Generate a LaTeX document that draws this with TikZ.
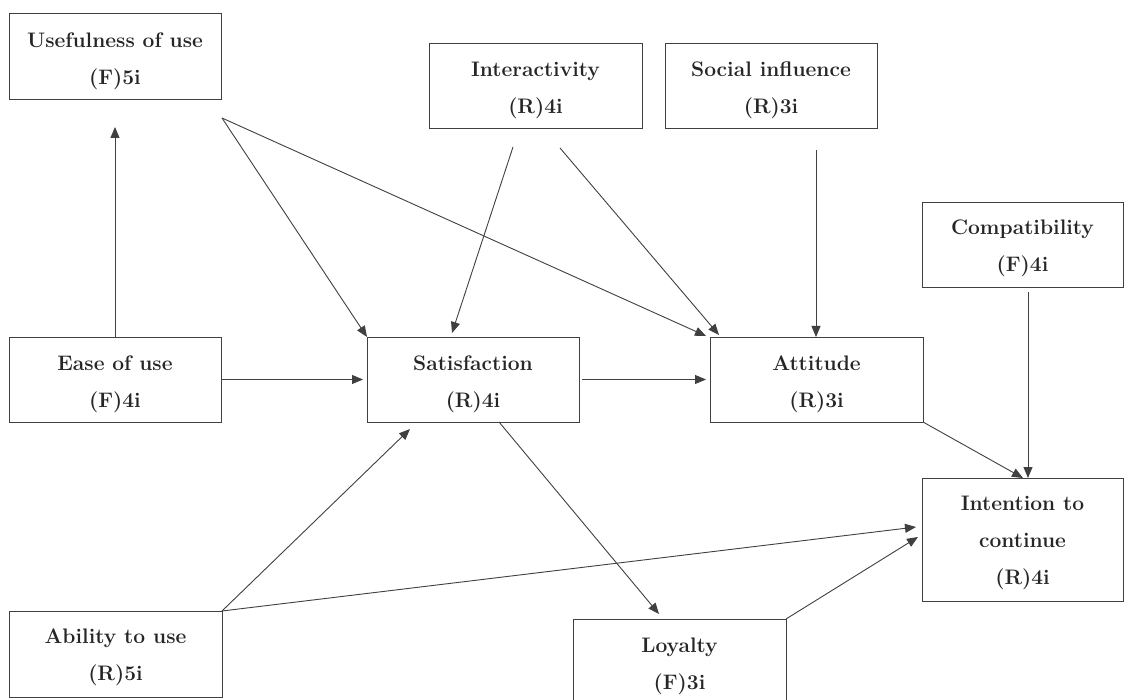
\documentclass[tikz,border=0pt]{standalone}
\usetikzlibrary{arrows.meta,calc}
\begin{document}
\begin{tikzpicture}[x=1pt,y=-1pt,
  box/.style={draw=black!75,line width=0.9pt,rectangle,inner sep=0pt,outer sep=0pt},
  txt/.style={inner sep=0pt,align=center,text=black!85,font=\fontsize{21}{37}\selectfont\bfseries},
  arr/.style={draw=black!75,line width=0.9pt,-{Triangle[length=11pt,width=9pt]}}]
\clip (0,0) rectangle (1124,700);
\fill[white] (0,0) rectangle (1124,700);
% boxes
\node[box,minimum width=212pt,minimum height=86pt] (use) at (115,56) {};
\node[box,minimum width=213pt,minimum height=85pt] (inter) at (535.5,85.5) {};
\node[box,minimum width=212pt,minimum height=85pt] (social) at (771,85.5) {};
\node[box,minimum width=201pt,minimum height=85pt] (compat) at (1022.5,244.5) {};
\node[box,minimum width=212pt,minimum height=85pt] (ease) at (115,379.5) {};
\node[box,minimum width=212pt,minimum height=85pt] (sat) at (473,379.5) {};
\node[box,minimum width=213pt,minimum height=85pt] (att) at (816.5,379.5) {};
\node[box,minimum width=201pt,minimum height=123pt] (intent) at (1022.5,539.5) {};
\node[box,minimum width=213pt,minimum height=86pt] (abil) at (115.5,654) {};
\node[box,minimum width=213pt,minimum height=86pt,anchor=north] (loyal) at (679.5,619) {};
% texts
\node[txt] (useT) at ($(use)+(0,5)$) {Usefulness of use\\(F)5i};
\node[txt] (interT) at ($(inter)+(0,5)$) {Interactivity\\(R)4i};
\node[txt] (socialT) at ($(social)+(0,5)$) {Social influence\\(R)3i};
\node[txt] (compatT) at ($(compat)+(0,4)$) {Compatibility\\(F)4i};
\node[txt] (easeT) at ($(ease)+(0,5)$) {Ease of use\\(F)4i};
\node[txt] (satT) at ($(sat)+(0,5)$) {Satisfaction\\(R)4i};
\node[txt] (attT) at ($(att)+(0,5)$) {Attitude\\(R)3i};
\node[txt] (intentT) at ($(intent)+(0,3)$) {Intention to\\continue\\(R)4i};
\node[txt] (abilT) at ($(abil)+(0,3)$) {Ability to use\\(R)5i};
\node[txt] (loyalT) at ($(loyal)+(0,4)$) {Loyalty\\(F)3i};
% free ends
\coordinate (e1) at (115,127);
\coordinate (u0) at (222,118);
\coordinate (i1) at (513,147);
\coordinate (i2) at (560,148);
\coordinate (s1) at (452,333);
\coordinate (a1) at (719,335);
\coordinate (so1) at (816,150);
\coordinate (co1) at (1028,292);
\coordinate (t1) at (1023,478);
\coordinate (s2) at (410,429);
\coordinate (t2) at (916,527);
\coordinate (t3) at (918,537);
\coordinate (s3) at (499,422);
\coordinate (l1) at (659,614);
% connectors
\draw[arr] (ease.north) -- (e1);
\draw[arr] (u0) -- (sat.north west);
\draw[arr] (u0) -- ($(att.north west)+(-4,-1)$);
\draw[arr] (i1) -- (s1);
\draw[arr] (i2) -- (a1);
\draw[arr] (so1) -- (so1 |- att.north);
\draw[arr] (co1) -- (co1 |- intent.north);
\draw[arr,shorten >=4pt] (ease.east) -- (sat.west);
\draw[arr,shorten <=3pt,shorten >=4pt] (sat.east) -- (att.west);
\draw[arr] (att.south east) -- (t1);
\draw[arr] (abil.north east) -- (s2);
\draw[arr] (abil.north east) -- (t2);
\draw[arr] (s3) -- (l1);
\draw[arr] (loyal.north east) -- (t3);
\end{tikzpicture}
\end{document}
